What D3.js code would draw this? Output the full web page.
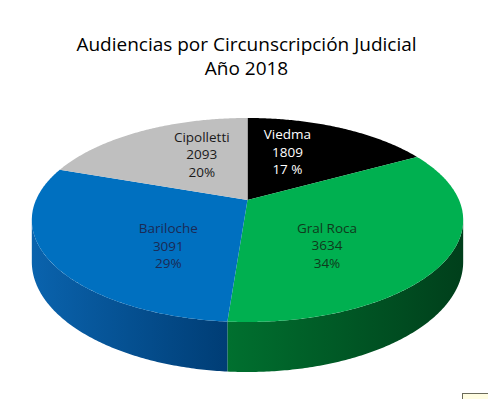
<!DOCTYPE html>
<html>
<head>
<meta charset="utf-8">
<script src="https://cdn.jsdelivr.net/npm/d3@7"></script>
<style>
  html, body { margin: 0; padding: 0; background: #fff; }
  svg { display: block; }
</style>
</head>
<body>
<div id="chart"></div>
<script>
// data
const titleLines = ["Audiencias por Circunscripción Judicial", "Año 2018"];
const names = ["Viedma", "Gral Roca", "Bariloche", "Cipolletti"];
const values = [1809, 3634, 3091, 2093];
const percents = ["17 %", "34%", "29%", "20%"];
const topColors = ["#000000", "#00b050", "#0070c0", "#bfbfbf"];
const sideColors = [["#111", "#000"], ["#00702f", "#003f1b"], ["#0a63ad", "#003d75"], ["#a0a0a0", "#7a7a7a"]];
const labelColors = ["#ffffff", "#0f3a1c", "#1b2a55", "#1a1a1a"];

const width = 488, height = 399;
// perspective disc: screen = center + (A*x, B*z + h) / (1 - K*z)
const CX = 247.5, CY = 200, A = 211.5, B = 98.1, K = 0.196, H = 40.2;
const font = "'Open Sans', 'Noto Sans', sans-serif";

const svg = d3.select("#chart").append("svg")
    .attr("width", width)
    .attr("height", height);

const defs = svg.append("defs");

function proj(r, a, h) {
  const x = r * Math.sin(a), z = -r * Math.cos(a);
  const d = 1 - K * z;
  return [CX + A * x / d, CY + (B * z + h) / d];
}

const arcs = d3.pie().sort(null).value(d => d)(values);

// visible side wall spans where z >= K
const wallStart = Math.PI - Math.acos(K), wallEnd = Math.PI + Math.acos(K);

const line = d3.line();

function samples(a0, a1) {
  const n = Math.max(2, Math.ceil((a1 - a0) / 0.01));
  return d3.range(n + 1).map(i => a0 + (a1 - a0) * i / n);
}

// side walls
arcs.forEach((s, i) => {
  const a0 = Math.max(s.startAngle, wallStart), a1 = Math.min(s.endAngle, wallEnd);
  if (a1 <= a0) return;
  const angs = samples(a0, a1);
  const pts = angs.map(a => proj(1, a, 0)).concat(angs.slice().reverse().map(a => proj(1, a, H)));
  const xs = pts.map(p => p[0]);
  const g = defs.append("linearGradient")
      .attr("id", "side" + i)
      .attr("gradientUnits", "userSpaceOnUse")
      .attr("x1", d3.min(xs)).attr("x2", d3.max(xs))
      .attr("y1", 0).attr("y2", 0);
  g.append("stop").attr("offset", 0).attr("stop-color", sideColors[i][0]);
  g.append("stop").attr("offset", 1).attr("stop-color", sideColors[i][1]);
  svg.append("path")
      .attr("d", line(pts) + "Z")
      .attr("fill", "url(#side" + i + ")");
});

// top faces
arcs.forEach((s, i) => {
  const pts = [proj(0, 0, 0)].concat(samples(s.startAngle, s.endAngle).map(a => proj(1, a, 0)));
  svg.append("path")
      .attr("d", line(pts) + "Z")
      .attr("fill", topColors[i]);
});

// labels
arcs.forEach((s, i) => {
  const mid = (s.startAngle + s.endAngle) / 2;
  const x = 0.41 * Math.sin(mid), z = -0.69 * Math.cos(mid) + 0.05;
  const d = 1 - K * z;
  const px = CX + A * x / d, py = CY + B * z / d;
  const t = svg.append("text")
      .attr("x", px).attr("y", py)
      .attr("text-anchor", "middle")
      .attr("font-family", font)
      .attr("font-size", 13.5)
      .attr("fill", labelColors[i]);
  [names[i], String(values[i]), percents[i]].forEach((txt, j) => {
    t.append("tspan")
        .attr("x", px)
        .attr("y", py + (j - 1) * 17.5)
        .attr("dominant-baseline", "central")
        .text(txt);
  });
});

// title
svg.append("text")
    .attr("text-anchor", "middle")
    .attr("font-family", font)
    .attr("font-size", 19)
    .attr("fill", "#000")
    .selectAll("tspan")
    .data(titleLines)
    .join("tspan")
      .attr("x", 246.5)
      .attr("y", (d, i) => 51 + i * 24)
      .text(d => d);

// small box at the bottom right corner
svg.append("rect")
    .attr("x", 462.5).attr("y", 393.5)
    .attr("width", 30).attr("height", 10)
    .attr("fill", "#fffde2")
    .attr("stroke", "#6b6b5a");
</script>
</body>
</html>
